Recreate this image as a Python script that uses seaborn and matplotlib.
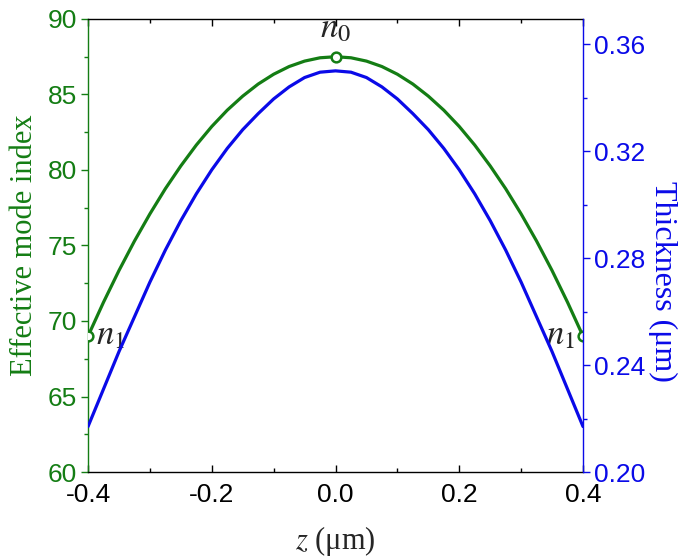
import matplotlib
matplotlib.use("Agg")
import matplotlib.pyplot as plt
from matplotlib.ticker import MultipleLocator
import seaborn as sns
import pandas as pd

# data
z = [-0.4, -0.375, -0.35, -0.325, -0.3, -0.275, -0.25, -0.225, -0.2, -0.175, -0.15, -0.125, -0.1,
     -0.075, -0.05, -0.025, 0.0, 0.025, 0.05, 0.075, 0.1, 0.125, 0.15, 0.175, 0.2, 0.225, 0.25,
     0.275, 0.3, 0.325, 0.35, 0.375, 0.4]
mode_index = [69.0, 71.24, 73.34, 75.29, 77.09, 78.76, 80.27, 81.65, 82.88, 83.96, 84.89, 85.69, 86.34,
              86.85, 87.21, 87.43, 87.5, 87.43, 87.21, 86.85, 86.34, 85.69, 84.89, 83.96, 82.88, 81.65,
              80.27, 78.76, 77.09, 75.29, 73.34, 71.24, 69.0]
thickness = [0.217, 0.231, 0.245, 0.258, 0.271, 0.283, 0.294, 0.304, 0.313, 0.321, 0.328, 0.334, 0.3395,
             0.344, 0.3475, 0.3495, 0.350, 0.3495, 0.3475, 0.344, 0.3395, 0.334, 0.328, 0.321, 0.313,
             0.304, 0.294, 0.283, 0.271, 0.258, 0.245, 0.231, 0.217]

# marked points
mark_z = [-0.4, 0.0, 0.4]
mark_n = [69.0, 87.5, 69.0]

df = pd.DataFrame({'z': z, 'n': mode_index, 't': thickness})

green = '#147d14'
blue = '#0a0ae8'

sns.set_theme(style='ticks')
plt.rcParams['font.family'] = ['Liberation Sans', 'DejaVu Sans']
plt.rcParams['mathtext.fontset'] = 'stix'
plt.rcParams['axes.unicode_minus'] = False

fig = plt.figure(figsize=(6.85, 5.58), dpi=100)
ax = fig.add_axes([0.1285, 0.1541, 0.7226, 0.8119])
ax2 = ax.twinx()

sns.lineplot(data=df, x='z', y='n', ax=ax, color=green, linewidth=2.3)
sns.lineplot(data=df, x='z', y='t', ax=ax2, color=blue, linewidth=2.3)
ax.plot(mark_z, mark_n, 'o', mfc='white', mec=green, mew=1.8, ms=7, zorder=5)

ax.set_xlim(-0.4, 0.4)
ax.set_ylim(60, 90)
ax2.set_ylim(0.20, 0.3694)

ax.xaxis.set_major_locator(MultipleLocator(0.2))
ax.xaxis.set_minor_locator(MultipleLocator(0.1))
ax.yaxis.set_major_locator(MultipleLocator(5))
ax.yaxis.set_minor_locator(MultipleLocator(2.5))
ax2.yaxis.set_major_locator(MultipleLocator(0.04))
ax2.yaxis.set_minor_locator(MultipleLocator(0.02))
ax.xaxis.set_major_formatter(matplotlib.ticker.FormatStrFormatter('%.1f'))
ax2.yaxis.set_major_formatter(matplotlib.ticker.FormatStrFormatter('%.2f'))

ax.tick_params(axis='x', which='both', direction='in', top=True, bottom=True,
               labelsize=19, colors='black', pad=8)
ax.tick_params(axis='x', which='major', length=5, width=1)
ax.tick_params(axis='x', which='minor', length=3, width=1)
ax.tick_params(axis='y', which='both', direction='out', colors=green, labelsize=19, width=1, pad=3)
ax.tick_params(axis='y', which='major', length=5)
ax.tick_params(axis='y', which='minor', length=3)
ax2.tick_params(axis='y', which='both', direction='out', colors=blue, labelsize=19, width=1, pad=3)
ax2.tick_params(axis='y', which='major', length=5)
ax2.tick_params(axis='y', which='minor', length=3)

for s in ['top', 'bottom']:
    ax.spines[s].set_color('black')
    ax.spines[s].set_linewidth(1)
ax.spines['left'].set_color(green)
ax.spines['left'].set_linewidth(1)
ax.spines['right'].set_visible(False)
ax2.spines['right'].set_color(blue)
ax2.spines['right'].set_linewidth(1)
for s in ['left', 'top', 'bottom']:
    ax2.spines[s].set_visible(False)

serif = ['Liberation Serif', 'DejaVu Serif']
ax.set_xlabel('$z$ (μm)', family=serif, fontsize=22, labelpad=12)
ax.set_ylabel('Effective mode index', family=serif, fontsize=22, color=green, labelpad=6)
ax2.set_ylabel('Thickness (μm)', family=serif, fontsize=23, color=blue, rotation=-90)
ax2.yaxis.set_label_coords(1.19, 0.42)

ax.text(0.0, 88.3, '$n_0$', fontsize=25, ha='center', va='bottom')
ax.text(-0.363, 68.0, '$n_1$', fontsize=25, ha='center', va='bottom')
ax.text(0.364, 68.0, '$n_1$', fontsize=25, ha='center', va='bottom')

fig.savefig('out.png', dpi=100)
